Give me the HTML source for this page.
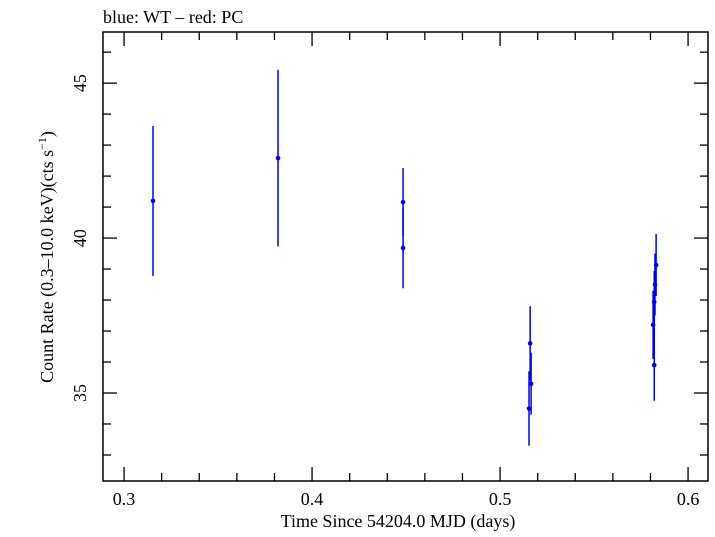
<!DOCTYPE html>
<html><head><meta charset="utf-8"><style>
body{margin:0;background:#fff;}
svg text{font-family:"Liberation Serif",serif;fill:#000;}
</style></head><body>
<svg id="chart" width="715" height="532" xmlns="http://www.w3.org/2000/svg">
<text x="103" y="23" font-size="18">blue: WT – red: PC</text>
<rect x="103" y="32" width="605" height="449" fill="none" stroke="#000" stroke-width="1.5"/>
<g id="ticks"></g>
<g id="marks"></g>
<text x="398" y="527" font-size="18" text-anchor="middle">Time Since 54204.0 MJD (days)</text>
<text transform="translate(53,257) rotate(-90)" font-size="18" text-anchor="middle">Count Rate (0.3–10.0 keV)(cts s<tspan baseline-shift="super" font-size="12">−1</tspan>)</text>
</svg>
<script>
const times=[0.3154,0.3819,0.4484,0.4484,0.5154,0.516,0.5165,0.5814,0.582,0.5824,0.583,0.582];
const rates=[41.2,42.58,41.16,39.68,34.5,36.6,35.3,37.2,37.94,38.5,39.13,35.9];
const errs=[2.42,2.85,1.1,1.3,1.2,1.2,1.0,1.1,1.0,1.0,1.0,1.15];
const xTicks=[0.3,0.4,0.5,0.6];
const yTicks=[35,40,45];
const X0=103,X1=708,Y0=481,Y1=32;
const xmin=0.2888,xmax=0.6106,ymin=32.16,ymax=46.65;
function sx(v){return X0+(v-xmin)/(xmax-xmin)*(X1-X0);}
function sy(v){return Y0-(v-ymin)/(ymax-ymin)*(Y0-Y1);}
const NS="http://www.w3.org/2000/svg";
function mk(tag,attrs,parent){const e=document.createElementNS(NS,tag);for(const k in attrs)e.setAttribute(k,attrs[k]);parent.appendChild(e);return e;}
const tg=document.getElementById('ticks');
for(let v=0.30;v<=0.6101;v+=0.02){const x=sx(v);const maj=Math.abs(v*10-Math.round(v*10))<1e-6;const L=maj?14:8;
 const a=mk('line',{x1:x,x2:x,y1:Y0,y2:Y0-L,stroke:'#000','stroke-width':1.3},tg);
 
 const b=mk('line',{x1:x,x2:x,y1:Y1,y2:Y1+L,stroke:'#000','stroke-width':1.3},tg);
 }
for(let v=33;v<=46;v++){const y=sy(v);const maj=v%5===0;const L=maj?14:8;
 const a=mk('line',{x1:X0,x2:X0+L,y1:y,y2:y,stroke:'#000','stroke-width':1.3},tg);
 
 const b=mk('line',{x1:X1,x2:X1-L,y1:y,y2:y,stroke:'#000','stroke-width':1.3},tg);
 }
xTicks.forEach(v=>{const t=mk('text',{x:sx(v),y:505,'font-size':18,'text-anchor':'middle'},tg);t.textContent=v.toFixed(1);
 });
yTicks.forEach(v=>{const t=mk('text',{transform:`translate(86,${sy(v)}) rotate(-90)`,'font-size':18,'text-anchor':'middle'},tg);t.textContent=v;
 });
const mg=document.getElementById('marks');
times.forEach((t,i)=>{const x=sx(t);
 const l=mk('line',{x1:x,x2:x,y1:sy(rates[i]+errs[i]),y2:sy(rates[i]-errs[i]),stroke:'#0000ee','stroke-width':1.5},mg);
 
 const c=mk('circle',{cx:x,cy:sy(rates[i]),r:2.3,fill:'#0000ee'},mg);
 });
</script>
</body></html>
